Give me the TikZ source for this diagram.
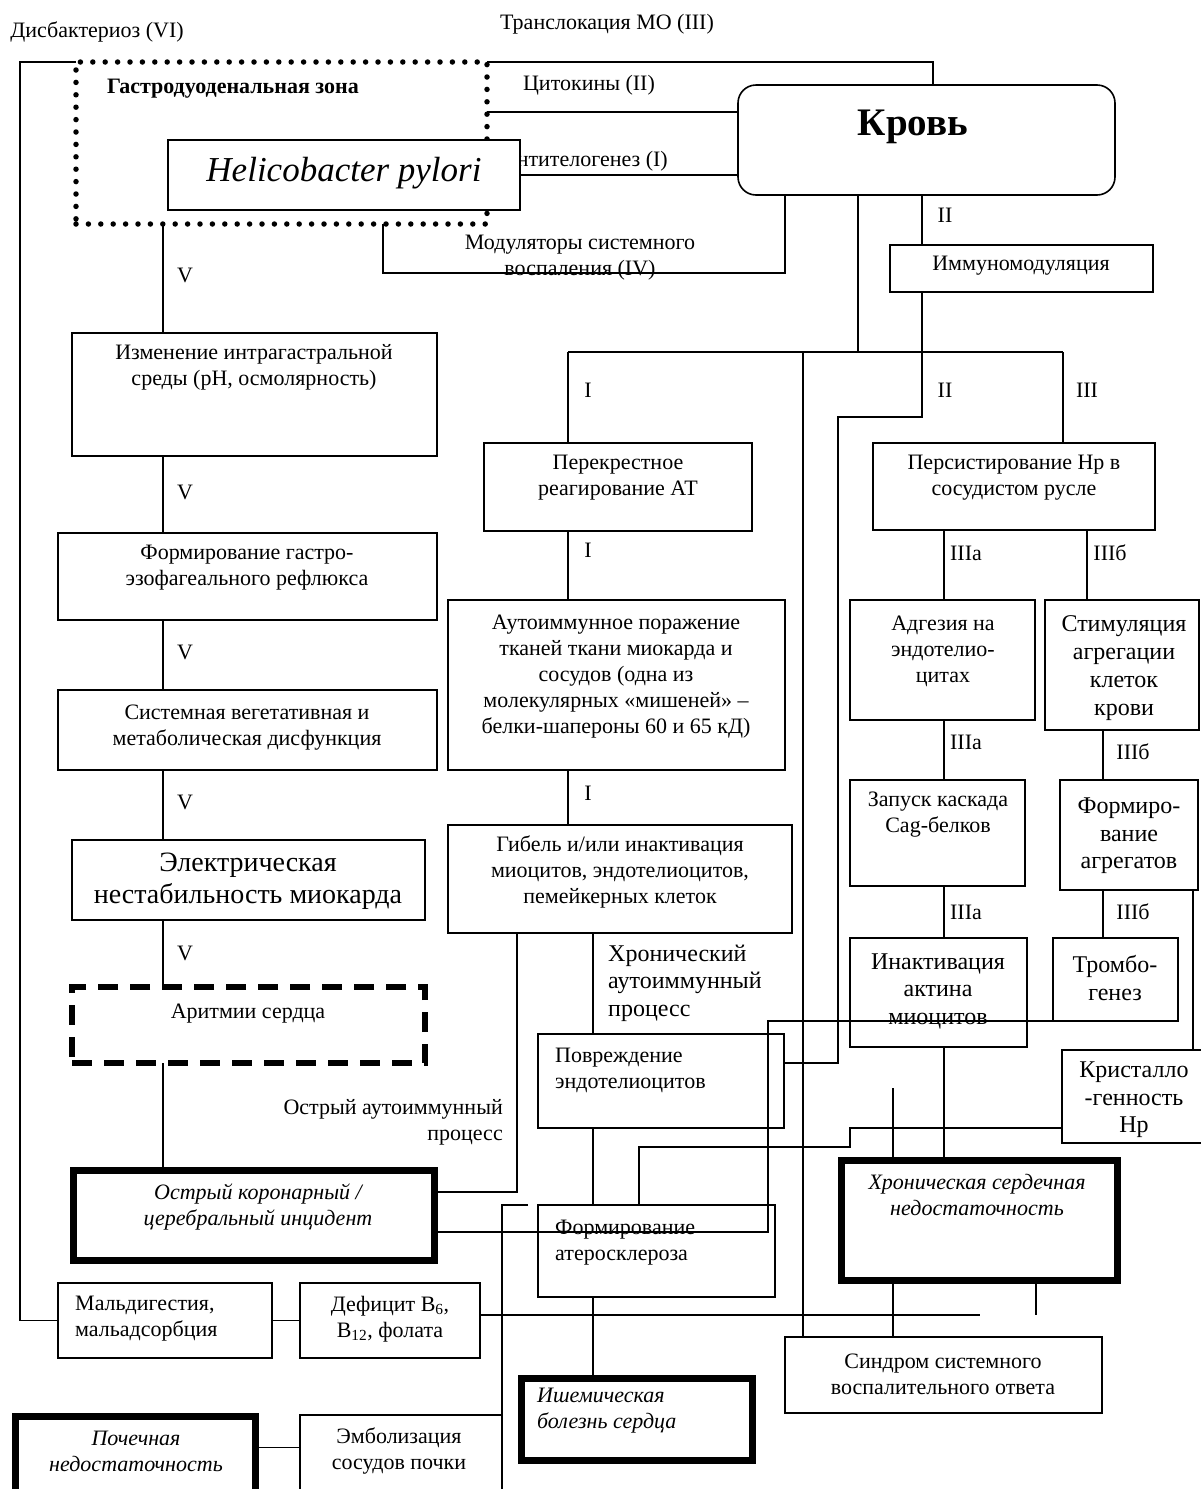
\documentclass[tikz,border=0pt]{standalone}
\usepackage{fontspec}
\setmainfont{Liberation Serif}
\newcommand\fsa{\fontsize{22}{26}\selectfont}
\newcommand\fsb{\fontsize{24}{27.5}\selectfont}
\newcommand\mkbox[6][]{%
 \pgfmathsetmacro\mkbW{#4-#2}%
 \pgfmathsetmacro\mkbH{#5-#3}%
 \pgfmathsetmacro\mkbX{(#2+#4)/2}%
 \pgfmathsetmacro\mkbY{(#3+#5)/2}%
 \node[box,minimum width=\mkbW pt,minimum height=\mkbH pt,#1] (#6) at (\mkbX,\mkbY) {};}
\begin{document}
\begin{tikzpicture}[x=1pt,y=-1pt,
  box/.style={draw,line width=1.6pt,inner sep=0pt,outer sep=0pt},
  heavy/.style={line width=7pt},
  dotbox/.style={line width=5.5pt,dash pattern=on 0pt off 12.4pt,line cap=round},
  dashbox/.style={line width=6pt,dash pattern=on 20pt off 12pt},
  conn/.style={line width=1.6pt},
  txt/.style={inner sep=0pt,align=center,font=\fsa},
  txtb/.style={inner sep=0pt,align=center,font=\fsb},
  itxt/.style={inner sep=0pt,align=center,font=\fsa\itshape},
  lab/.style={inner sep=0pt,font=\fsa}]
\useasboundingbox (0,0) rectangle (1200,1489);
\fill[white] (0,0) rectangle (1200,1489);

% ---------- top labels ----------
\node[txt] (tdys) at (97,32) {Дисбактериоз (VI)};
\node[txt] (ttrans) at (607,24) {Транслокация МО (III)};
\node[txt] (tcyt) at (589,85) {Цитокины (II)};
\node[txt,anchor=east] (tanti) at (668,161) {Антителогенез (I)};
\node[txt] (tmod) at (580,258) {Модуляторы системного\\воспаления (IV)};

% ---------- boxes ----------
\mkbox[dotbox]{76}{62}{487}{224}{zone}
\node[txt,anchor=west,font=\fsa\bfseries] (tzone) at (107,89) {Гастродуоденальная зона};
\mkbox[fill=white]{168}{140}{520}{210}{hp}
\node[inner sep=0pt,font=\fontsize{35}{40}\selectfont\itshape] (thp) at (344,173) {Helicobacter pylori};
\mkbox[rounded corners=18pt]{738}{85}{1115}{195}{krov}
\node[inner sep=0pt,font=\fontsize{39}{44}\selectfont\bfseries] (tkrov) at (913,127) {Кровь};
\mkbox{890}{245}{1153}{292}{immun}
\node[txt] (timmun) at (1021,266) {Иммуномодуляция};

\mkbox{72}{333}{437}{456}{izm}
\node[txt] (tizm) at (254,367) {Изменение интрагастральной\\среды (pH, осмолярность)};
\mkbox{58}{533}{437}{620}{refl}
\node[txt] (trefl) at (247,568) {Формирование гастро-\\эзофагеального рефлюкса};
\mkbox{58}{690}{437}{770}{sist}
\node[txt] (tsist) at (247,728) {Системная вегетативная и\\метаболическая дисфункция};
\mkbox{72}{840}{425}{920}{elec}
\node[inner sep=0pt,align=center,font=\fontsize{28}{32}\selectfont] (telec) at (248,881) {Электрическая\\нестабильность миокарда};
\mkbox[dashbox]{72}{987}{425}{1063}{arit}
\node[txt] (tarit) at (248,1014) {Аритмии сердца};
\mkbox[heavy]{73}{1170}{434}{1260}{acute}
\node[itxt] (tacute) at (258,1207) {Острый коронарный /\\церебральный инцидент};
\mkbox{58}{1283}{272}{1358}{mald}
\node[txt,anchor=west,align=left] (tmald) at (75,1319) {Мальдигестия,\\мальадсорбция};
\mkbox{300}{1283}{480}{1358}{defic}
\node[txt] (tdefic) at (390,1319) {Дефицит B\textsubscript{6},\\B\textsubscript{12}, фолата};
\mkbox[heavy]{15}{1416}{255}{1505}{pochk}
\node[itxt] (tpochk) at (136,1451) {Почечная\\недостаточность};
\mkbox{300}{1415}{502}{1500}{embol}
\node[txt] (tembol) at (399,1451) {Эмболизация\\сосудов почки};

\mkbox{484}{443}{752}{531}{perek}
\node[txt] (tperek) at (618,478) {Перекрестное\\реагирование АТ};
\mkbox{448}{600}{785}{770}{auto}
\node[txt] (tauto) at (616,677) {Аутоиммунное поражение\\тканей ткани миокарда и\\сосудов (одна из\\молекулярных «мишеней» –\\белки-шапероны 60 и 65 кД)};
\mkbox{448}{825}{792}{933}{gibel}
\node[txt] (tgibel) at (620,872) {Гибель и/или инактивация\\миоцитов, эндотелиоцитов,\\пемейкерных клеток};
\mkbox{538}{1034}{784}{1128}{povr}
\node[txt,anchor=west,align=left] (tpovr) at (555,1070) {Повреждение\\эндотелиоцитов};
\mkbox{538}{1205}{775}{1297}{ather}
\node[txt,anchor=west,align=left] (tather) at (555,1243) {Формирование\\атеросклероза};
\mkbox[heavy]{521}{1378}{752}{1460}{ischem}
\node[itxt,anchor=west,align=left] (tischem) at (537,1411) {Ишемическая\\болезнь сердца};

\mkbox{873}{443}{1155}{530}{pers}
\node[txt] (tpers) at (1014,478) {Персистирование Hp в\\сосудистом русле};
\mkbox{850}{600}{1035}{720}{adg}
\node[txt] (tadg) at (943,651) {Адгезия на\\эндотелио-\\цитах};
\mkbox{1045}{600}{1199}{730}{stim}
\node[txtb,font=\fontsize{24}{28}\selectfont] (tstim) at (1124,668) {Стимуляция\\агрегации\\клеток\\крови};
\mkbox{850}{780}{1025}{886}{zapusk}
\node[txt] (tzapusk) at (938,815) {Запуск каскада\\Cag-белков};
\mkbox{1060}{780}{1198}{890}{formagg}
\node[txtb] (tformagg) at (1129,836) {Формиро-\\вание\\агрегатов};
\mkbox{850}{938}{1027}{1047}{inakt}
\node[txtb] (tinakt) at (938,991) {Инактивация\\актина\\миоцитов};
\mkbox{1053}{938}{1178}{1021}{tromb}
\node[txtb] (ttromb) at (1115,978) {Тромбо-\\генез};
\mkbox{1062}{1050}{1205}{1143}{krist}
\node[txtb] (tkrist) at (1134,1100) {Кристалло\\-генность\\Hp};
\mkbox[heavy]{841}{1160}{1117}{1280}{chsn}
\node[itxt] (tchsn) at (977,1195) {Хроническая сердечная\\недостаточность};
\mkbox{785}{1337}{1102}{1413}{sindr}
\node[txt] (tsindr) at (943,1374) {Синдром системного\\воспалительного ответа};

% ---------- free labels ----------
\node[txt,anchor=west,align=left,font=\fontsize{24}{27.5}\selectfont] (tchron) at (608,983) {Хронический\\аутоиммунный\\процесс};
\node[txt,anchor=east,align=right] (tacut) at (503,1122) {Острый аутоиммунный\\процесс};

\foreach \yy/\nm in {275/v1,492/v2,652/v3,802/v4,953/v5}
  \node[lab] (\nm) at (185,\yy) {V};
\node[lab] (i1) at (588,390) {I};
\node[lab] (i2) at (588,550) {I};
\node[lab] (i3) at (588,793) {I};
\node[lab] (ii1) at (945,215) {II};
\node[lab] (ii2) at (945,390) {II};
\node[lab] (iii) at (1087,390) {III};
\node[lab] (iiia1) at (966,553) {IIIа};
\node[lab] (iiia2) at (966,742) {IIIа};
\node[lab] (iiia3) at (966,912) {IIIа};
\node[lab] (iiib1) at (1110,553) {IIIб};
\node[lab] (iiib2) at (1133,752) {IIIб};
\node[lab] (iiib3) at (1133,912) {IIIб};

% ---------- helper coordinates ----------
\coordinate (lc) at (163,0);
\coordinate (j1) at (568,352);
\coordinate (j2) at (803,352);
\coordinate (j3) at (922,352);
\coordinate (j4) at (1063,352);
\coordinate (jm) at (858,352);
\coordinate (ca) at (944,0);
\coordinate (cb1) at (1087,0);
\coordinate (cb2) at (1103,0);
\coordinate (cc) at (1193,0);
\coordinate (cg) at (517,0);
\coordinate (cp) at (593,0);
\coordinate (cat) at (639,0);
\coordinate (st1) at (893,1088);
\coordinate (st2) at (1036,1315);
\coordinate (st3) at (980,1315);
\coordinate (st4) at (528,1205);

% ---------- connectors ----------
\begin{scope}[conn]
\draw (zone.north west) -- (20,62) |- (mald.west);
\draw (zone.north east) -| ([xshift=6.5pt]krov.north);
\draw ([yshift=31pt]zone.east) -- ([yshift=31pt]zone.east -| krov.west);
\draw (hp.east) -- (hp.east -| krov.west);
\draw ([xshift=101.5pt]zone.south) |- (785,273) -- ([xshift=-141.5pt]krov.south);
\draw ([xshift=-68.5pt]krov.south) -- (jm);
\draw ([xshift=-4.5pt]krov.south) -- ([xshift=-4.5pt]krov.south |- immun.north);
\draw (immun.south -| j3) -- (j3);
\draw (j1) -- (j4);
\draw (j1) -- (j1 |- perek.north);
\draw (j2) -- (j2 |- sindr.north);
\draw (j3) |- (838,417) |- ([yshift=18pt]povr.east);
\draw (j4) -- (j4 |- pers.north);
% left column
\draw (zone.south -| lc) -- (izm.north -| lc);
\draw (izm.south -| lc) -- (refl.north -| lc);
\draw (refl.south -| lc) -- (sist.north -| lc);
\draw (sist.south -| lc) -- (elec.north -| lc);
\draw (elec.south -| lc) -- (arit.north -| lc);
\draw (arit.south -| lc) -- (acute.north -| lc);
% middle column
\draw (perek.south -| j1) -- (auto.north -| j1);
\draw (auto.south -| j1) -- (gibel.north -| j1);
\draw (gibel.south -| cg) |- ([yshift=23pt]acute.east);
\draw (gibel.south -| cp) -- (povr.north -| cp);
\draw (povr.south -| cp) -- (ather.north -| cp);
\draw (ather.south -| cp) -- (ischem.north -| cp);
% right column
\draw (pers.south -| ca) -- (adg.north -| ca);
\draw (adg.south -| ca) -- (zapusk.north -| ca);
\draw (zapusk.south -| ca) -- (inakt.north -| ca);
\draw (inakt.south -| ca) -- (chsn.north -| ca);
\draw (pers.south -| cb1) -- (stim.north -| cb1);
\draw (stim.south -| cb2) -- (formagg.north -| cb2);
\draw (formagg.south -| cb2) -- (tromb.north -| cb2);
\draw (formagg.south -| cc) -- (krist.north -| cc);
% cross links
\draw (tromb.south west) -- (768,1021) |- ([yshift=-17pt]acute.east);
\draw ([yshift=-31.5pt]krist.west) -| (850,1147) -| (ather.north -| cat);
\draw (st1) -- (st1 |- chsn.north);
\draw (chsn.south -| st1) -- (sindr.north -| st1);
\draw (chsn.south -| st2) -- (st2);
\draw (defic.east |- st3) -- (st3);
\draw (mald.east) -- (defic.west);
\draw (st4) -| (embol.north east);
\draw ([yshift=13pt]pochk.east) -- ([yshift=13pt]pochk.east -| embol.west);
\end{scope}
\end{tikzpicture}
\end{document}
